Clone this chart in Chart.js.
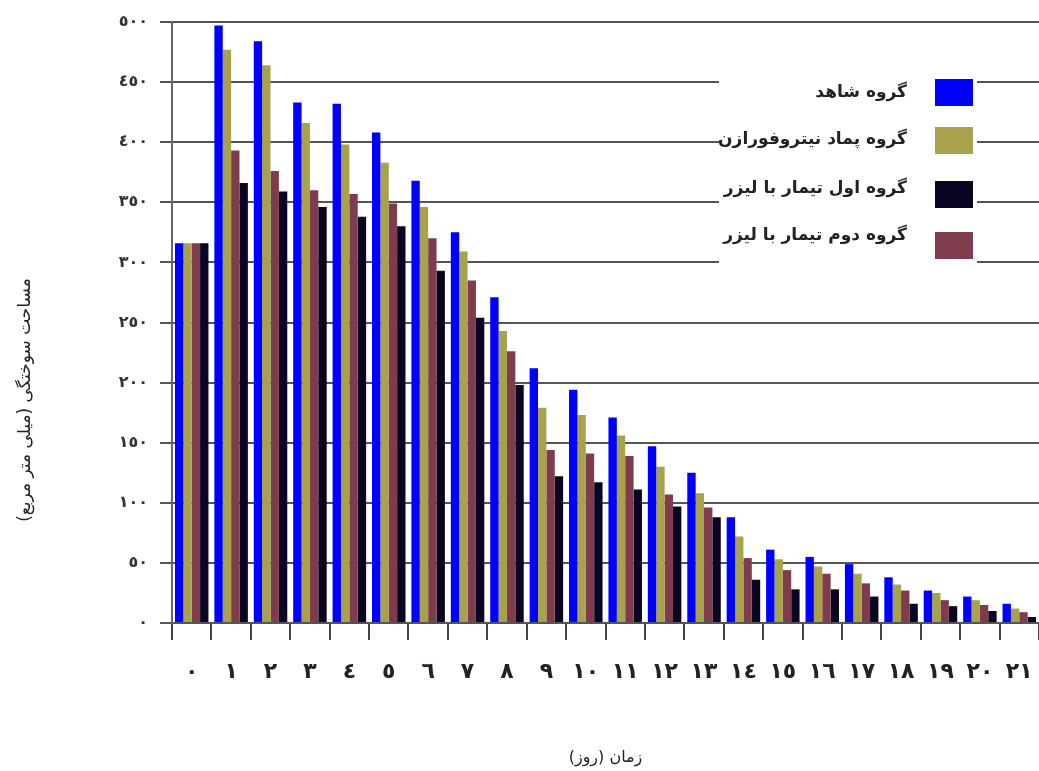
<!DOCTYPE html>
<html>
<head>
<meta charset="utf-8">
<script src="https://cdn.jsdelivr.net/npm/chart.js@4.4.0/dist/chart.umd.min.js"></script>
<style>
  html, body { margin: 0; padding: 0; background: #fff; }
  #wrap { width: 1039px; height: 771px; position: relative; }
</style>
</head>
<body>
<div id="wrap"><canvas id="burnChart" width="1039" height="771"></canvas></div>
<script>
// days after burn (x categories)
const days = ['٠','١','٢','٣','٤','٥','٦','٧','٨','٩','١٠','١١','١٢','١٣','١٤','١٥','١٦','١٧','١٨','١٩','٢٠','٢١'];
const yTickLabels = ['٠','٥٠','١٠٠','١٥٠','٢٠٠','٢٥٠','٣٠٠','٣٥٠','٤٠٠','٤٥٠','٥٠٠'];

const groupNames = ['گروه شاهد', 'گروه پماد نیتروفورازن', 'گروه دوم تیمار با لیزر', 'گروه اول تیمار با لیزر'];

// burn area (mm2)
const controlGroup = [316, 497, 484, 433, 432, 408, 368, 325, 271, 212, 194, 171, 147, 125, 88, 61, 55, 49, 38, 27, 22, 16];
const nitroGroup   = [316, 477, 464, 416, 398, 383, 346, 309, 243, 179, 173, 156, 130, 108, 72, 53, 47, 41, 32, 25, 19, 12];
const laserSecond  = [316, 393, 376, 360, 357, 349, 320, 285, 226, 144, 141, 139, 107, 96, 54, 44, 41, 33, 27, 19, 15, 9];
const laserFirst   = [316, 366, 359, 346, 338, 330, 293, 254, 198, 122, 117, 111, 97, 88, 36, 28, 28, 22, 16, 14, 10, 5];

const colors = ['#0000ff', '#a8a24c', '#7e3c4c', '#0a0522'];
const legendOrder = [0, 1, 3, 2];

const yTitle = 'مساحت سوختگی (میلی متر مربع)';
const xTitle = 'زمان (روز)';

const seriesData = [controlGroup, nitroGroup, laserSecond, laserFirst];

// legend sits inside the plot on a white panel, plus the side title
const boxLegend = {
  id: 'boxLegend',
  afterDraw(chart) {
    const ctx = chart.ctx;
    ctx.save();
    ctx.fillStyle = '#fff';
    ctx.fillRect(719, 70, 258, 196);
    const textY = [93, 140, 189, 236];
    const boxY = [92, 140, 194, 245];
    ctx.font = 'bold 17px "DejaVu Sans"';
    ctx.direction = 'rtl';
    ctx.textAlign = 'right';
    ctx.textBaseline = 'middle';
    legendOrder.forEach((di, row) => {
      const ds = chart.data.datasets[di];
      ctx.fillStyle = ds.backgroundColor;
      ctx.fillRect(935, boxY[row] - 13, 38, 27);
      ctx.fillStyle = '#222';
      ctx.fillText(ds.label, 907, textY[row]);
    });
    ctx.restore();

    ctx.save();
    ctx.translate(26, 400);
    ctx.rotate(-Math.PI / 2);
    ctx.font = '17px "DejaVu Sans"';
    ctx.fillStyle = '#222';
    ctx.textAlign = 'center';
    ctx.textBaseline = 'middle';
    ctx.direction = 'rtl';
    ctx.fillText(yTitle, 0, 0);
    ctx.restore();
  }
};

const ctx = document.getElementById('burnChart').getContext('2d');
new Chart(ctx, {
  type: 'bar',
  data: {
    labels: days,
    datasets: seriesData.map((d, i) => ({
      label: groupNames[i],
      data: d,
      backgroundColor: colors[i],
      borderWidth: 0,
      barPercentage: 1,
      categoryPercentage: 0.85
    }))
  },
  options: {
    responsive: false,
    animation: false,
    layout: { padding: { top: 22, right: 0, bottom: 0, left: 0 } },
    plugins: {
      legend: { display: false },
      tooltip: { enabled: false }
    },
    scales: {
      x: {
        ticks: {
          color: '#222',
          font: { size: 22, weight: 'bold', family: 'DejaVu Sans' },
          padding: 19,
          maxRotation: 0,
          autoSkip: false
        },
        grid: { drawOnChartArea: false, drawTicks: true, tickLength: 17, color: '#444', lineWidth: 2 },
        border: { display: true, color: '#555', width: 2 },
        title: { display: true, text: xTitle, color: '#222', font: { size: 16, family: 'DejaVu Sans' }, padding: { top: 0, bottom: 4 } },
        afterFit(scale) {
          scale.height = 148;
          scale.paddingLeft = 0;
          scale.paddingRight = 0;
        }
      },
      y: {
        min: 0,
        max: 500,
        ticks: {
          stepSize: 50,
          color: '#333',
          font: { size: 16, weight: 'bold', family: 'DejaVu Sans' },
          padding: 12,
          callback: v => yTickLabels[v / 50]
        },
        grid: { color: '#555', lineWidth: 2, tickLength: 12 },
        border: { display: true, color: '#666', width: 2 },
        afterFit(scale) { scale.width = 172; }
      }
    }
  },
  plugins: [boxLegend]
});
</script>
</body>
</html>
